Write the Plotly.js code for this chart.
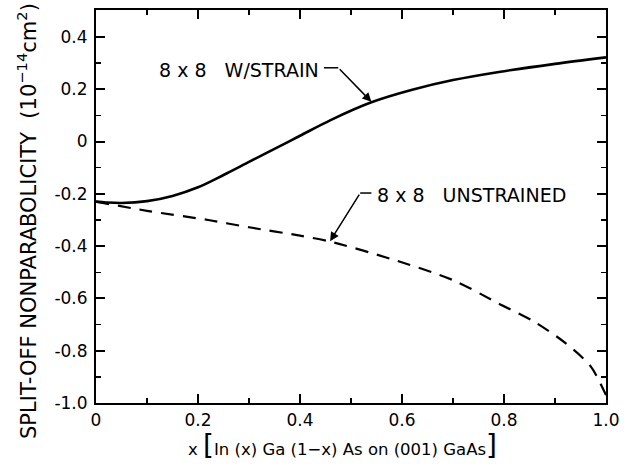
<!DOCTYPE html>
<html>
<head>
<meta charset="utf-8">
<script src="https://cdn.plot.ly/plotly-3.0.1.min.js"></script>
<style>html,body{margin:0;padding:0;background:#fff;}#chart{width:632px;height:467px;}</style>
</head>
<body>
<div id="chart"></div>
<script>
// Data
const strainX = [0, 0.02, 0.05, 0.1, 0.15, 0.2, 0.25, 0.3, 0.35, 0.4, 0.46, 0.54, 0.62, 0.70, 0.79, 0.9, 1.0];
const strainY = [-0.230, -0.233, -0.235, -0.228, -0.208, -0.175, -0.128, -0.078, -0.028, 0.022, 0.082, 0.150, 0.198, 0.235, 0.266, 0.297, 0.322];
const unstrX = [0, 0.1, 0.22, 0.3, 0.4, 0.46, 0.58, 0.7, 0.79, 0.86, 0.92, 0.97, 1.0];
const unstrY = [-0.23, -0.265, -0.30, -0.328, -0.36, -0.383, -0.45, -0.53, -0.62, -0.69, -0.77, -0.86, -0.97];
const xTickVals = [0, 0.2, 0.4, 0.6, 0.8, 1.0];
const xTickText = ['0', '0.2', '0.4', '0.6', '0.8', '1.0'];
const yTickVals = [0.4, 0.2, 0, -0.2, -0.4, -0.6, -0.8, -1.0];
const yTickText = ['0.4', '0.2', '0', '-0.2', '-0.4', '-0.6', '-0.8', '-1.0'];
const labelStrain = '8 x 8   W/STRAIN';
const labelUnstr = '8 x 8   UNSTRAINED';

const FONT = 'DejaVu Sans, Arial, sans-serif';

const traces = [
  {x: strainX, y: strainY, type: 'scatter', mode: 'lines',
   line: {color: '#000', width: 2.6, shape: 'spline', smoothing: 0.9}, showlegend: false, hoverinfo: 'skip'},
  {x: unstrX, y: unstrY, type: 'scatter', mode: 'lines',
   line: {color: '#000', width: 2.2, shape: 'spline', smoothing: 0.8, dash: '13px,9px'}, showlegend: false, hoverinfo: 'skip'}
];

const axisCommon = {
  showgrid: false, zeroline: false, showline: true, linecolor: '#000', linewidth: 2,
  mirror: 'ticks', ticks: 'inside', ticklen: 9, tickwidth: 2, tickcolor: '#000',
  tickfont: {family: FONT, size: 17, color: '#000'},
  minor: {ticks: 'inside', ticklen: 5, tickwidth: 1.5, tickcolor: '#000', tickmode: 'linear', tick0: 0, dtick: 0.1}
};

const layout = {
  width: 632, height: 467,
  margin: {l: 96, r: 26, t: 10, b: 64},
  paper_bgcolor: '#fff', plot_bgcolor: '#fff',
  xaxis: Object.assign({}, axisCommon, {range: [0, 1], tickmode: 'array', tickvals: xTickVals, ticktext: xTickText, ticklabelstandoff: 1}),
  yaxis: Object.assign({}, axisCommon, {range: [-1.0, 0.503], tickmode: 'array', tickvals: yTickVals, ticktext: yTickText, ticklabelstandoff: 3}),
  shapes: [
    {type: 'line', xref: 'x', yref: 'y', x0: 0.447, y0: 0.282, x1: 0.475, y1: 0.282, line: {color: '#000', width: 1.5}},
    {type: 'line', xref: 'x', yref: 'y', x0: 0.518, y0: -0.197, x1: 0.54, y1: -0.197, line: {color: '#000', width: 1.5}}
  ],
  annotations: [
    {x: 0.54, y: 0.152, xref: 'x', yref: 'y', ax: 0.475, ay: 0.282, axref: 'x', ayref: 'y',
     text: '', showarrow: true, arrowhead: 2, arrowsize: 1.2, arrowwidth: 1.5, arrowcolor: '#000'},
    {x: 0.459, y: -0.381, xref: 'x', yref: 'y', ax: 0.518, ay: -0.197, axref: 'x', ayref: 'y',
     text: '', showarrow: true, arrowhead: 2, arrowsize: 1.2, arrowwidth: 1.5, arrowcolor: '#000'},
    {x: 0.281, y: 0.274, xref: 'x', yref: 'y', text: labelStrain, showarrow: false,
     font: {family: FONT, size: 19, color: '#000'}},
    {x: 0.737, y: -0.205, xref: 'x', yref: 'y', text: labelUnstr, showarrow: false,
     font: {family: FONT, size: 19, color: '#000'}},
    {xref: 'paper', yref: 'paper', x: (342 - 96) / 510, y: (403 - 445) / 393, xanchor: 'center', yanchor: 'middle',
     text: 'x <span style="font-size:28px">[</span>In (x) Ga (1−x) As on (001) GaAs<span style="font-size:28px">]</span>',
     showarrow: false, font: {family: FONT, size: 16.5, color: '#000'}},
    {xref: 'paper', yref: 'paper', x: (27 - 96) / 510, y: (403 - 221) / 393, xanchor: 'center', yanchor: 'middle',
     textangle: -90, text: 'SPLIT-OFF NONPARABOLICITY  (10<sup>−14</sup>cm<sup>2</sup>)',
     showarrow: false, font: {family: FONT, size: 21, color: '#000'}}
  ]
};

Plotly.newPlot('chart', traces, layout, {staticPlot: true, displayModeBar: false});
</script>
</body>
</html>
